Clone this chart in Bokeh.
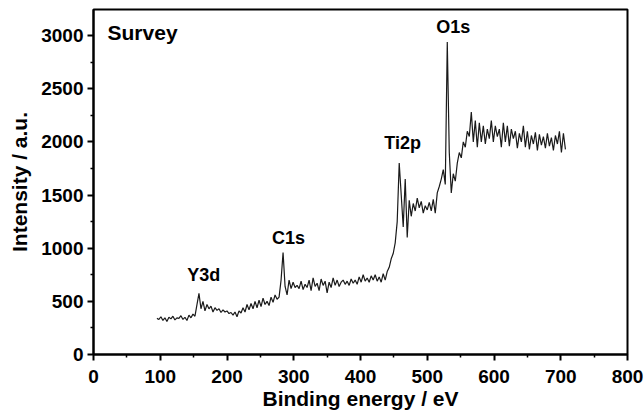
from bokeh.plotting import figure
from bokeh.models import Range1d, FixedTicker, Label
from bokeh.embed import file_html
from bokeh.resources import INLINE

# XPS survey spectrum: binding energy (eV) vs intensity (a.u.)
energy = [95, 98, 101, 104, 107, 110, 113, 116, 119, 122, 125, 128, 131, 134, 137, 140, 143, 146, 149, 152,
          155, 158, 161, 164, 167, 170, 173, 176, 179, 182, 185, 188, 191, 194, 197, 200, 203, 206, 209, 212,
          215, 218, 221, 224, 227, 230, 233, 236, 239, 242, 245, 248, 251, 254, 257, 260, 263, 266, 269, 272,
          275, 278, 281, 284, 287, 290, 293, 296, 299, 302, 305, 308, 311, 314, 317, 320, 323, 326, 329, 332,
          335, 338, 341, 344, 347, 350, 353, 356, 359, 362, 365, 368, 371, 374, 377, 380, 383, 386, 389, 392,
          395, 398, 401, 404, 407, 410, 413, 416, 419, 422, 425, 428, 431, 434, 437, 440, 443, 446, 449, 452,
          455, 458, 461, 464, 467, 470, 473, 476, 479, 482, 485, 488, 491, 494, 497, 500, 503, 506, 509, 512,
          515, 518, 521, 524, 527, 530, 533, 536, 539, 542, 545, 548, 551, 554, 557, 560, 563, 566, 569, 572,
          575, 578, 581, 584, 587, 590, 593, 596, 599, 602, 605, 608, 611, 614, 617, 620, 623, 626, 629, 632,
          635, 638, 641, 644, 647, 650, 653, 656, 659, 662, 665, 668, 671, 674, 677, 680, 683, 686, 689, 692,
          695, 698, 701, 704, 707]

intensity = [340, 330, 355, 320, 345, 310, 350, 335, 360, 325, 345, 340, 365, 330, 350, 320, 370, 345, 380, 360,
             470, 575, 430, 500, 410, 470, 430, 455, 400, 440, 415, 430, 395, 420, 400, 410, 385, 395, 370, 400,
             355, 410, 390, 440, 400, 470, 420, 480, 430, 500, 440, 510, 450, 530, 470, 500, 460, 540, 490, 560,
             520, 540, 700, 960, 640, 560, 700, 620, 680, 630, 650, 620, 690, 610, 660, 630, 700, 600, 720, 640,
             670, 600, 710, 650, 690, 580, 680, 630, 720, 650, 700, 640, 680, 700, 660, 690, 650, 710, 670, 700,
             660, 730, 680, 750, 690, 720, 680, 740, 700, 750, 690, 730, 680, 760, 700, 780, 820, 900, 950, 1050,
             1250, 1800, 1500, 1200, 1650, 1100, 1450, 1300, 1420, 1350, 1470, 1380, 1440, 1330, 1400, 1360, 1430, 1350, 1460, 1330,
             1520, 1580, 1650, 1740, 1600, 2940, 1900, 1520, 1700, 1630, 1800, 1900, 1850, 2000, 1950, 2100, 2050, 2280, 2000, 2200,
             1950, 2180, 2000, 2150, 1980, 2120, 2030, 2200, 2000, 2150, 2050, 2120, 1950, 2180, 2000, 2150, 1960, 2120, 2030, 2100,
             1940, 2080, 2000, 2150, 1950, 2100, 1930, 2060, 1980, 2090, 1920, 2070, 1970, 2050, 1940, 2080, 1960, 2040, 1920, 2060,
             1980, 2100, 1900, 2080, 1930]

x_ticks = [0, 100, 200, 300, 400, 500, 600, 700, 800]
x_minor = [50, 150, 250, 350, 450, 550, 650, 750]
y_ticks = [0, 500, 1000, 1500, 2000, 2500, 3000]
y_minor = [250, 750, 1250, 1750, 2250, 2750, 3250]

peak_names = ["Y3d", "C1s", "Ti2p", "O1s"]
peak_x = [165, 292, 463, 539]
peak_y = [745, 1100, 1985, 3085]

FONT = "Liberation Sans"

p = figure(width=644, height=418, output_backend="svg", toolbar_location=None,
           x_range=Range1d(0, 800), y_range=Range1d(0, 3245))
p.min_border_left = 93
p.min_border_right = 17
p.min_border_top = 9
p.min_border_bottom = 64
p.background_fill_color = "white"
p.border_fill_color = "white"
p.grid.visible = False
p.outline_line_color = "black"
p.outline_line_width = 2

p.line(energy, intensity, line_color="#1a1a1a", line_width=1.2)

p.xaxis.ticker = FixedTicker(ticks=x_ticks, minor_ticks=x_minor)
p.yaxis.ticker = FixedTicker(ticks=y_ticks, minor_ticks=y_minor)

for ax in (p.xaxis[0], p.yaxis[0]):
    ax.axis_line_width = 2
    ax.axis_line_color = "black"
    ax.major_tick_line_width = 2
    ax.minor_tick_line_width = 1.5
    ax.major_tick_in = 0
    ax.major_tick_out = 6
    ax.minor_tick_in = 0
    ax.minor_tick_out = 3
    ax.major_label_text_font = FONT
    ax.major_label_text_font_style = "bold"
    ax.major_label_text_font_size = "19px"
    ax.major_label_text_color = "black"
    ax.axis_label_text_font = FONT
    ax.axis_label_text_font_style = "bold"
    ax.axis_label_text_font_size = "21px"
    ax.axis_label_text_color = "black"

p.xaxis.axis_label = "Binding energy / eV"
p.yaxis.axis_label = "Intensity / a.u."
p.xaxis.major_label_standoff = 9
p.yaxis.major_label_standoff = 4
p.xaxis.axis_label_standoff = 1
p.yaxis.axis_label_standoff = 7

p.add_layout(Label(x=21, y=3030, text="Survey", text_font=FONT, text_font_style="bold",
                   text_font_size="21px", text_color="black",
                   text_baseline="middle", text_align="left"))
for name, px, py in zip(peak_names, peak_x, peak_y):
    p.add_layout(Label(x=px, y=py, text=name, text_font=FONT, text_font_style="bold",
                       text_font_size="18px", text_color="black",
                       text_baseline="middle", text_align="center"))

open("out.html", "w").write(file_html(p, INLINE))
